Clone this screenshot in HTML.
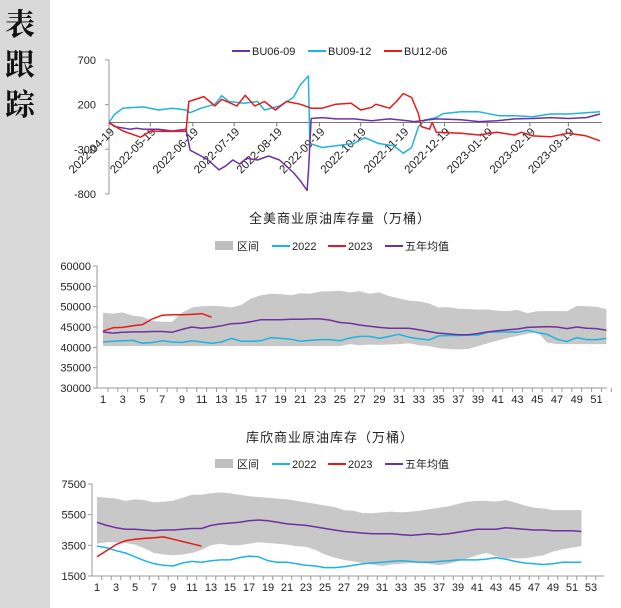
<!DOCTYPE html>
<html><head><meta charset="utf-8">
<style>
html,body{margin:0;padding:0;background:#fff;width:621px;height:608px;overflow:hidden}
#side{position:absolute;left:0;top:0;width:50px;height:608px;background:#d9d9d9}
.sc{position:absolute;left:5px;font:bold 30px "Noto Serif CJK SC",serif;color:#111}
svg{position:absolute;left:0;top:0}
text{font-family:"Liberation Sans","Noto Sans CJK SC",sans-serif;fill:#222}
</style></head><body>
<div id="side">
<div class="sc" style="top:0px">表</div>
<div class="sc" style="top:40px">跟</div>
<div class="sc" style="top:80px">踪</div>
</div>
<svg id="svg" width="621" height="608"></svg>
<script>
// ---- Chart 1 data (day offsets from 2022-04-19) ----
const c1Ticks=[700,200,-300,-800];
const c1DateLabels=["2022-04-19","2022-05-19","2022-06-19","2022-07-19","2022-08-19","2022-09-19","2022-10-19","2022-11-19","2022-12-19","2023-01-19","2023-02-19","2023-03-19"];
const c1DateDays=[0,30,61,91,122,153,183,214,244,275,306,334];
const cyanDays=[0,4,10,25,36,46,56,59,67,77,82,87,98,108,113,124,134,139,145,146,155,165,178,186,196,207,214,220,225,230,238,243,256,269,284,295,308,321,334,347,357];
const cyanVals=[0,90,160,175,140,160,140,110,160,205,300,235,215,235,140,185,280,420,520,-235,-280,-260,-235,-170,-235,-260,-345,-280,-45,30,55,100,120,120,75,75,65,95,95,110,120];
const redDays=[0,10,23,30,43,56,58,69,77,82,93,99,106,113,121,129,139,147,155,165,176,183,191,194,204,209,214,220,225,227,233,235,238,256,269,282,295,300,308,321,334,347,357];
const redVals=[0,-95,-165,-95,-100,-100,235,290,185,260,185,305,185,235,140,235,205,160,160,205,215,140,170,205,160,235,325,280,95,-45,-75,0,-110,-120,-140,-110,-140,-110,-150,-160,-120,-150,-205];
const purDays=[0,4,15,20,25,36,46,56,59,67,72,80,85,90,95,100,108,116,124,134,139,144,145,147,155,165,178,191,204,217,222,227,238,256,269,282,295,308,321,334,347,357];
const purVals=[0,-45,-75,-65,-75,-75,-95,-75,-310,-375,-420,-530,-485,-420,-465,-400,-420,-375,-420,-560,-650,-760,-560,45,55,40,40,20,40,20,10,20,40,30,10,20,40,45,55,45,55,95];
// ---- Chart 2 data ----
const c2Ticks=[60000,55000,50000,45000,40000,35000,30000];
const c2Hi=[48500,48300,48600,47800,47500,46500,46300,46300,48500,49800,50100,50200,50100,49800,50400,52000,52800,53200,53100,52800,53300,53200,53700,53800,53900,53500,53800,53200,53500,52600,52000,51500,51300,50800,49800,49900,49500,49400,49300,49300,49000,48900,49200,48400,48900,48900,48900,48900,50200,50100,50000,49400];
const c2Lo=[40300,40300,40300,40300,40300,40300,40300,40300,40300,40300,40300,40300,40300,40300,40300,40300,40300,40300,40300,40300,40300,40300,40300,40300,40300,40800,40500,40700,40600,40700,40800,41000,40500,40300,39800,39600,39500,39600,40300,41000,41700,42300,42800,43300,43800,41200,40800,40800,40800,40800,40800,40800];
const c2Y2022=[41300,41500,41600,41700,41000,41200,41600,41300,41200,41600,41300,41000,41300,42200,41500,41500,41600,42400,42200,42000,41500,41700,41900,41900,41600,42300,42700,42700,42200,42700,43200,42500,42100,41800,42800,42900,42900,43000,43000,43700,43800,43800,43700,44200,43600,43200,42000,41400,42400,41900,41900,42200];
const c2Y2023=[44000,44800,44900,45300,45600,47000,47900,48000,48000,48100,48300,47400];
const c2Avg=[43800,43500,43700,43800,43800,43900,43900,43700,44400,45000,44700,44900,45300,45800,45900,46300,46800,46800,46800,46900,46900,47000,47000,46700,46100,45900,45500,45200,44900,44700,44700,44700,44300,43900,43500,43300,43100,43100,43400,43800,44100,44300,44500,44900,45000,45100,45000,44600,45000,44700,44600,44200];
// ---- Chart 3 data ----
const c3Ticks=[7500,5500,3500,1500];
const c3Hi=[6650,6600,6550,6400,6500,6450,6300,6350,6400,6600,6800,6800,6900,6950,6900,6800,6700,6650,6600,6550,6500,6400,6300,6200,6100,6000,5800,5750,5600,5600,5650,5700,5650,5700,5750,5850,5950,6050,6200,6350,6400,6400,6350,6450,6300,6100,5950,5900,5800,5800,5800,5800];
const c3Lo=[3600,3700,3700,3650,3550,3300,3000,2900,2850,2900,3000,3200,3500,3600,3500,3500,3600,3700,3650,3600,3550,3450,3400,3200,2900,2700,2550,2450,2350,2250,2150,2250,2300,2350,2350,2300,2200,2300,2450,2650,2850,3000,2800,2650,2650,2650,2750,2850,3100,3250,3350,3450];
const c3Y2022=[3450,3350,3150,3000,2750,2500,2300,2200,2150,2350,2450,2400,2500,2550,2550,2700,2800,2750,2500,2400,2400,2300,2200,2150,2050,2050,2100,2200,2300,2350,2400,2450,2500,2450,2400,2400,2450,2500,2550,2550,2550,2600,2700,2600,2450,2350,2300,2250,2300,2400,2400,2400];
const c3Y2023=[2750,3150,3550,3800,3900,3950,4000,4050,3900,3750,3600,3450];
const c3Avg=[5000,4800,4650,4550,4550,4500,4450,4500,4500,4550,4600,4600,4800,4900,4950,5000,5100,5150,5100,5000,4900,4850,4800,4700,4600,4500,4400,4350,4300,4250,4250,4250,4200,4150,4200,4250,4200,4250,4350,4450,4550,4550,4550,4650,4600,4550,4500,4500,4450,4450,4450,4400];

const NS="http://www.w3.org/2000/svg";
const svg=document.getElementById('svg');
function mk(tag,attrs,parent){const e=document.createElementNS(NS,tag);for(const k in attrs)e.setAttribute(k,attrs[k]);(parent||svg).appendChild(e);return e;}
function txt(s,x,y,attrs){const t=mk('text',Object.assign({x:x,y:y},attrs||{}));t.textContent=s;return t;}
const CY='#1fb3e0',RD='#e41a1c',PU='#7030a0',GR='#c8c8c8';

// ===== Chart 1 =====
const x1=d=>109+d*(600-109)/357;
const y1=v=>122.5-v*(134/1500);
let a=mk('line',{x1:109,y1:60,x2:109,y2:194,stroke:'#999'});

a=mk('line',{x1:109,y1:y1(0),x2:602,y2:y1(0),stroke:'#777'});

c1Ticks.forEach(v=>{
  const t=txt(String(v),96,y1(v)+4,{'font-size':11,'text-anchor':'end',fill:v<0?'#e41a1c':'#222'});
  
  mk('line',{x1:105,y1:y1(v),x2:109,y2:y1(v),stroke:'#999'});
});
c1DateLabels.forEach((s,i)=>{
  const x=x1(c1DateDays[i]);
  mk('line',{x1:x,y1:y1(0),x2:x,y2:y1(0)+4,stroke:'#777'});
  const ax=x+6, ay=y1(0)+10;
  const t=txt(s,ax,ay,{'font-size':11.5,'text-anchor':'end',transform:`rotate(-45 ${ax} ${ay})`});
  
});
function line(xs,ys,xf,yf,col,name,w){
  const p=xs.map((d,i)=>xf(d).toFixed(1)+','+yf(ys[i]).toFixed(1)).join(' ');
  const e=mk('polyline',{points:p,fill:'none',stroke:col,'stroke-width':w||1.5,'stroke-linejoin':'round'});
  
}
line(cyanDays,cyanVals,x1,y1,CY,'series-bu09-12');
line(purDays,purVals,x1,y1,PU,'series-bu06-09');
line(redDays,redVals,x1,y1,RD,'series-bu12-06');
[[PU,'BU06-09',232],[CY,'BU09-12',308],[RD,'BU12-06',384]].forEach(([c,s,x])=>{
  const g=mk('g',{});
  mk('line',{x1:x,y1:51,x2:x+18,y2:51,stroke:c,'stroke-width':2},g);
  const t=txt(s,x+20,55,{'font-size':11},);g.appendChild(t);
});

// ===== band chart helper =====
function bandChart(o){
  const xf=w=>o.xl+(w-1)*o.step;
  const yf=v=>o.yTop+(o.vMax-v)/(o.vMax-o.vMin)*(o.yBot-o.yTop);
  let t=txt(o.title,o.cx,o.titleY,{'font-size':13,'text-anchor':'middle','letter-spacing':'1'});
  
  const lg=mk('g',{});
  const ly=o.legY;
  mk('rect',{x:215,y:ly-5,width:18,height:9,fill:'#bfbfbf'},lg);lg.appendChild(txt('区间',237,ly+4,{'font-size':11}));
  mk('line',{x1:272,y1:ly,x2:290,y2:ly,stroke:CY,'stroke-width':2},lg);lg.appendChild(txt('2022',292,ly+4,{'font-size':11}));
  mk('line',{x1:328,y1:ly,x2:346,y2:ly,stroke:RD,'stroke-width':2},lg);lg.appendChild(txt('2023',348,ly+4,{'font-size':11}));
  mk('line',{x1:385,y1:ly,x2:403,y2:ly,stroke:PU,'stroke-width':2},lg);lg.appendChild(txt('五年均值',405,ly+4,{'font-size':11}));
  const wk=o.hi.map((_,i)=>i+1);
  const pts=wk.map((w,i)=>xf(w).toFixed(1)+','+yf(o.hi[i]).toFixed(1)).concat(wk.slice().reverse().map(w=>xf(w).toFixed(1)+','+yf(o.lo[w-1]).toFixed(1))).join(' ');
  const b=mk('polygon',{points:pts,fill:GR});
  
  const ax=mk('line',{x1:o.ax,y1:o.yTop,x2:o.ax,y2:o.yBot,stroke:'#999'});
  
  const bx=mk('line',{x1:o.ax,y1:o.yBot,x2:o.xr,y2:o.yBot,stroke:'#999'});
  
  o.ticks.forEach(v=>{
    mk('line',{x1:o.ax-4,y1:yf(v),x2:o.ax,y2:yf(v),stroke:'#999'});
    const tt=txt(String(v),o.ax-6,yf(v)+4,{'font-size':11,'text-anchor':'end'});
    
  });
  for(let w=1;w<=o.maxW;w++){
    mk('line',{x1:xf(w)+o.step/2,y1:o.yBot,x2:xf(w)+o.step/2,y2:o.yBot+4,stroke:'#999'});
    if(w%2===1){const tt=txt(String(w),xf(w),o.yBot+15,{'font-size':11,'text-anchor':'middle'});
      }
  }
  line(wk,o.y22,xf,yf,CY,o.id+'-series-2022');
  line(wk.slice(0,o.y23.length),o.y23,xf,yf,RD,o.id+'-series-2023');
  line(wk,o.avg,xf,yf,PU,o.id+'-series-5yr-avg');
}
bandChart({id:'c2',title:'全美商业原油库存量（万桶）',cx:340,titleY:223,legY:246,xl:103,step:9.87,ax:97,xr:607,
  yTop:266,yBot:388,vMax:60000,vMin:30000,ticks:c2Ticks,maxW:52,hi:c2Hi,lo:c2Lo,y22:c2Y2022,y23:c2Y2023,avg:c2Avg});
bandChart({id:'c3',title:'库欣商业原油库存（万桶）',cx:330,titleY:442,legY:464,xl:97,step:9.5,ax:92,xr:604,
  yTop:484,yBot:576,vMax:7500,vMin:1500,ticks:c3Ticks,maxW:53,hi:c3Hi,lo:c3Lo,y22:c3Y2022,y23:c3Y2023,avg:c3Avg});
</script>
</body></html>
